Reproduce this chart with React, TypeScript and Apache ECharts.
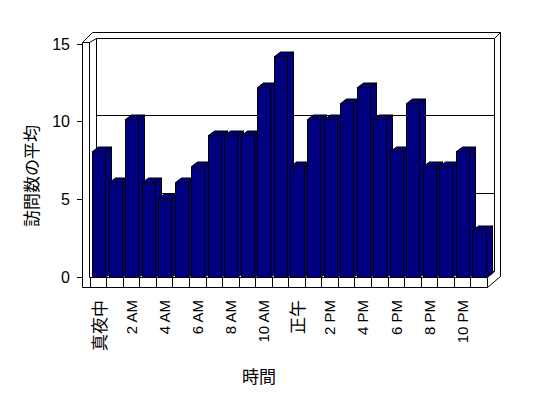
import React, { useEffect, useRef } from "react";
import * as echarts from "echarts";

const hours = [
  "真夜中", "1 AM", "2 AM", "3 AM", "4 AM", "5 AM", "6 AM", "7 AM", "8 AM", "9 AM", "10 AM", "11 AM",
  "正午", "1 PM", "2 PM", "3 PM", "4 PM", "5 PM", "6 PM", "7 PM", "8 PM", "9 PM", "10 PM", "11 PM",
];
const visits = [8, 6, 10, 6, 5, 6, 7, 9, 9, 9, 12, 14, 7, 10, 10, 11, 12, 10, 8, 11, 7, 7, 8, 3];
const yMin = 0;
const yMax = 15;
const yStep = 5;
const yTitle = "訪問数の平均";
const xTitle = "時間";

const px = (v: number) => Math.round(v) + 0.5;

export default function App() {
  const ref = useRef<HTMLDivElement>(null);
  useEffect(() => {
    if (!ref.current) return;
    const chart = echarts.init(ref.current, null, { renderer: "svg" });
    const barStyle = { fill: "#000080", stroke: "#000", lineWidth: 1 };
    const renderItem = (params: any, api: any) => {
      const i = api.value(0);
      const v = api.value(1);
      const base = api.coord([i, 0]);
      const top = api.coord([i, v]);
      const bw = api.size([1, 0])[0];
      const L = px(base[0] - 0.38 * bw);
      const R = px(base[0] + 0.41 * bw);
      const dx = Math.round(0.36 * bw);
      const dy = -4.5;
      const yb = px(base[1]);
      const yt = px(top[1]);
      return {
        type: "group",
        children: [
          { type: "polygon", shape: { points: [[R, yt], [R + dx, yt + dy], [R + dx, yb + dy], [R, yb]] }, style: barStyle },
          { type: "polygon", shape: { points: [[L, yt], [R, yt], [R + dx, yt + dy], [L + dx, yt + dy]] }, style: barStyle },
          { type: "rect", shape: { x: L, y: yt, width: R - L, height: yb - yt }, style: barStyle },
        ],
      };
    };
    const line = (points: number[][]) => ({
      type: "polyline",
      shape: { points },
      style: { stroke: "#000", fill: null, lineWidth: 1 },
      z: 10,
    });
    const option: any = {
      animation: false,
      backgroundColor: "#fff",
      grid: [
        { left: 90, top: 40, width: 397, height: 237 },
        { left: 82, top: 44, width: 405, height: 233 },
        { left: 96, top: 38, width: 398, height: 233 },
      ],
      xAxis: [
        {
          gridIndex: 0,
          type: "category",
          data: hours,
          axisLine: { show: true, lineStyle: { color: "#000", width: 1 } },
          axisTick: { show: true, interval: 0, length: 10, lineStyle: { color: "#000" } },
          axisLabel: {
            interval: 1,
            rotate: 90,
            margin: 23,
            formatter: (val: string) => (/^[\x00-\x7F]+$/.test(val) ? `{en|${val}}` : `{cjk|${val}}`),
            rich: {
              en: { fontFamily: "'Liberation Sans Narrow', 'Liberation Sans', sans-serif", fontSize: 15, color: "#000" },
              cjk: { fontFamily: "'Noto Sans CJK JP', sans-serif", fontSize: 17, color: "#000" },
            },
          },
          splitLine: { show: false },
        },
        { gridIndex: 1, type: "category", data: hours, show: false },
        { gridIndex: 2, type: "category", data: hours, show: false },
      ],
      yAxis: [
        { gridIndex: 0, type: "value", min: yMin, max: yMax, interval: yStep, show: false },
        {
          gridIndex: 1,
          type: "value",
          min: yMin,
          max: yMax,
          interval: yStep,
          axisLine: { show: true, lineStyle: { color: "#000", width: 1 } },
          axisTick: { show: true, length: 5, lineStyle: { color: "#000" } },
          axisLabel: { margin: 12, color: "#000", fontSize: 16, fontFamily: "'Liberation Sans', sans-serif" },
          splitLine: { show: false },
        },
        {
          gridIndex: 2,
          type: "value",
          min: yMin,
          max: yMax,
          interval: yStep,
          axisLine: { show: false },
          axisTick: { show: false },
          axisLabel: { show: false },
          splitLine: { show: true, lineStyle: { color: "#000", width: 1 } },
        },
      ],
      series: [
        {
          type: "custom",
          xAxisIndex: 0,
          yAxisIndex: 0,
          data: visits.map((v, i) => [i, v]),
          renderItem,
          clip: false,
          z: 5,
        },
      ],
      graphic: [
        line([[82.5, 287.5], [82.5, 42.5], [92.5, 32.5], [500.5, 32.5], [500.5, 276.5], [487.5, 287.5], [82.5, 287.5]]),
        line([[82.5, 42.5], [89.5, 42.5], [89.5, 277.5]]),
        line([[89.5, 42.5], [96.5, 38.5]]),
        { ...line([[96.5, 38.5], [96.5, 271.5]]), z: 0 },
        { ...line([[494.5, 38.5], [494.5, 271.5]]), z: 0 },
        line([[494.5, 38.5], [500.5, 32.5]]),
        line([[487.5, 277.5], [487.5, 287.5]]),
        line([[487.5, 277.5], [494.5, 271.5]]),
        {
          type: "text",
          x: 30,
          y: 176,
          rotation: Math.PI / 2,
          style: {
            text: yTitle,
            fontSize: 17,
            fontFamily: "'Noto Sans CJK JP', sans-serif",
            fill: "#000",
            align: "center",
            verticalAlign: "middle",
          },
        },
        {
          type: "text",
          x: 259,
          y: 375,
          style: {
            text: xTitle,
            fontSize: 17,
            fontFamily: "'Noto Sans CJK JP', sans-serif",
            fill: "#000",
            align: "center",
            verticalAlign: "middle",
          },
        },
      ],
    };
    chart.setOption(option);
    return () => chart.dispose();
  }, []);
  return <div ref={ref} style={{ position: "absolute", left: 0, top: 0, width: 548, height: 398 }} />;
}
